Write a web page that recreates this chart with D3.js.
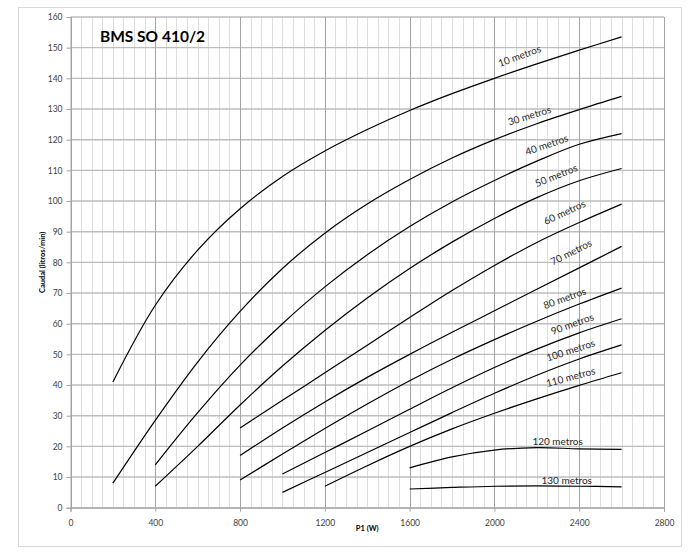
<!DOCTYPE html>
<html>
<head>
<meta charset="utf-8">
<script src="https://cdn.jsdelivr.net/npm/d3@7"></script>
<style>
  body { margin: 0; background: #fff; }
  svg { display: block; font-family: Lato, "Open Sans", sans-serif; }
</style>
</head>
<body>
<div id="chart"></div>
<script>
// P1 (W) sample points, shared by all curves
const p1 = [200, 400, 600, 800, 1000, 1200, 1400, 1600, 1800, 2000, 2200, 2400, 2600];

// Caudal (litros/min) per head, null where the curve does not exist
const q10  = [41, 66, 84, 97.5, 108, 116.3, 123.3, 129.5, 135, 140, 144.7, 149.2, 153.5];
const q30  = [8, 28.5, 47.5, 64, 78, 89.5, 99, 107, 114, 120, 125.2, 129.8, 134.1];
const q40  = [null, 14, 31, 46.5, 60, 72, 82.5, 91.7, 99.7, 106.7, 113, 118.5, 122];
const q50  = [null, 7, 20, 33.5, 46.2, 57.8, 68.4, 78, 86.6, 94.3, 101.1, 106.6, 110.6];
const q60  = [null, null, null, 26, 35, 44, 53, 62, 70.8, 79, 86.5, 93, 99];
const q70  = [null, null, null, 17, 26, 34.5, 42.5, 50, 57.2, 64.2, 71.2, 78.2, 85.2];
const q80  = [null, null, null, 9, 17.5, 25.8, 33.8, 41.4, 48.4, 54.8, 60.8, 66.4, 71.6];
const q90  = [null, null, null, null, 11, 18, 25, 32.1, 39.1, 45.7, 51.7, 57, 61.6];
const q100 = [null, null, null, null, 5, 11.5, 18, 24.5, 31, 37.3, 43.2, 48.5, 53.1];
const q110 = [null, null, null, null, null, 7, 13.7, 20, 25.7, 30.8, 35.5, 39.9, 44];
const q120 = [null, null, null, null, null, null, null, 13, 16.6, 18.8, 19.6, 19.2, 19];
const q130 = [null, null, null, null, null, null, null, 6.1, 6.6, 7.0, 7.1, 7.0, 6.8];

const heads = ['10 metros', '30 metros', '40 metros', '50 metros', '60 metros', '70 metros',
  '80 metros', '90 metros', '100 metros', '110 metros', '120 metros', '130 metros'];
const series = [q10, q30, q40, q50, q60, q70, q80, q90, q100, q110, q120, q130];

// where each label sits, in data units, and its tilt
const labelP = [2120, 2167, 2248, 2293, 2333, 2364, 2333, 2369, 2361, 2361, 2298, 2341];
const labelQ = [147, 127.5, 118, 108, 96, 83, 68, 59.6, 51, 42.3, 21.3, 8.7];
const labelAngle = [-20, -17, -19, -22, -25, -27, -20, -20, -18, -15, 0, 0];

const xTicks = [0, 400, 800, 1200, 1600, 2000, 2400, 2800];
const yTicks = [0, 10, 20, 30, 40, 50, 60, 70, 80, 90, 100, 110, 120, 130, 140, 150, 160];

const W = 693, H = 552;
const x = d3.scaleLinear().domain([0, 2800]).range([70.5, 664]);
const y = d3.scaleLinear().domain([0, 160]).range([507.7, 17]);

const svg = d3.select('#chart').append('svg')
  .attr('width', W)
  .attr('height', H);

// outer frame
svg.append('rect')
  .attr('x', 18.5).attr('y', 7.5)
  .attr('width', 663).attr('height', 539)
  .attr('fill', '#fff')
  .attr('stroke', '#d9d9d9');

// minor vertical grid
svg.append('g')
  .selectAll('line')
  .data(d3.range(50, 2800, 50).filter(v => v % 400 !== 0))
  .join('line')
  .attr('x1', d => Math.round(x(d)) + 0.5).attr('x2', d => Math.round(x(d)) + 0.5)
  .attr('y1', y(160)).attr('y2', y(0))
  .attr('stroke', '#dedede');

// horizontal grid
svg.append('g')
  .selectAll('line')
  .data(yTicks)
  .join('line')
  .attr('x1', x(0)).attr('x2', x(2800))
  .attr('y1', d => y(d)).attr('y2', d => y(d))
  .attr('stroke', '#bdbdbd')
  .attr('stroke-width', 1.4);

// major vertical grid
svg.append('g')
  .selectAll('line')
  .data(xTicks)
  .join('line')
  .attr('x1', d => Math.round(x(d)) + 0.5).attr('x2', d => Math.round(x(d)) + 0.5)
  .attr('y1', y(160)).attr('y2', y(0))
  .attr('stroke', '#a3a3a3');

// axes
const xAxis = svg.append('g')
  .attr('transform', `translate(0,${y(0)})`)
  .call(d3.axisBottom(x).tickValues(xTicks).tickFormat(d3.format('d')).tickSize(4).tickPadding(8));
const yAxis = svg.append('g')
  .attr('transform', `translate(${x(0)},0)`)
  .call(d3.axisLeft(y).tickValues(yTicks).tickFormat(d3.format('d')).tickSize(4).tickPadding(4));

[xAxis, yAxis].forEach(g => {
  g.select('.domain').attr('stroke', '#a3a3a3');
  g.selectAll('.tick line').attr('stroke', '#a3a3a3');
  g.selectAll('.tick text')
    .attr('fill', '#404040')
    .style('font-family', 'Lato, "Open Sans", sans-serif')
    .style('font-size', '8.5px');
});

// curves
const line = d3.line()
  .x(d => x(d[0]))
  .y(d => y(d[1]))
  .curve(d3.curveCatmullRom.alpha(0.5));

svg.append('g')
  .selectAll('path')
  .data(series)
  .join('path')
  .attr('d', s => line(s.map((q, i) => [p1[i], q]).filter(d => d[1] != null)))
  .attr('fill', 'none')
  .attr('stroke', '#000')
  .attr('stroke-width', 1.2);

// curve labels
svg.append('g')
  .selectAll('text')
  .data(heads)
  .join('text')
  .attr('transform', (d, i) => `translate(${x(labelP[i])},${y(labelQ[i])}) rotate(${labelAngle[i]})`)
  .attr('text-anchor', 'middle')
  .attr('dominant-baseline', 'middle')
  .attr('fill', '#262626')
  .style('font-size', '10px')
  .text(d => d);

// title
svg.append('text')
  .attr('x', 100).attr('y', 42)
  .attr('font-weight', 'bold')
  .style('font-size', '15.5px')
  .attr('fill', '#000')
  .text('BMS SO 410/2');

// axis titles
svg.append('text')
  .attr('transform', `translate(45,${(y(0) + y(160)) / 2}) rotate(-90)`)
  .attr('text-anchor', 'middle')
  .attr('font-weight', 'bold')
  .style('font-size', '7.5px')
  .attr('fill', '#000')
  .text('Caudal (litros/min)');

svg.append('text')
  .attr('x', (x(0) + x(2800)) / 2).attr('y', 531)
  .attr('text-anchor', 'middle')
  .attr('font-weight', 'bold')
  .style('font-size', '7.5px')
  .attr('fill', '#000')
  .text('P1  (W)');
</script>
</body>
</html>
